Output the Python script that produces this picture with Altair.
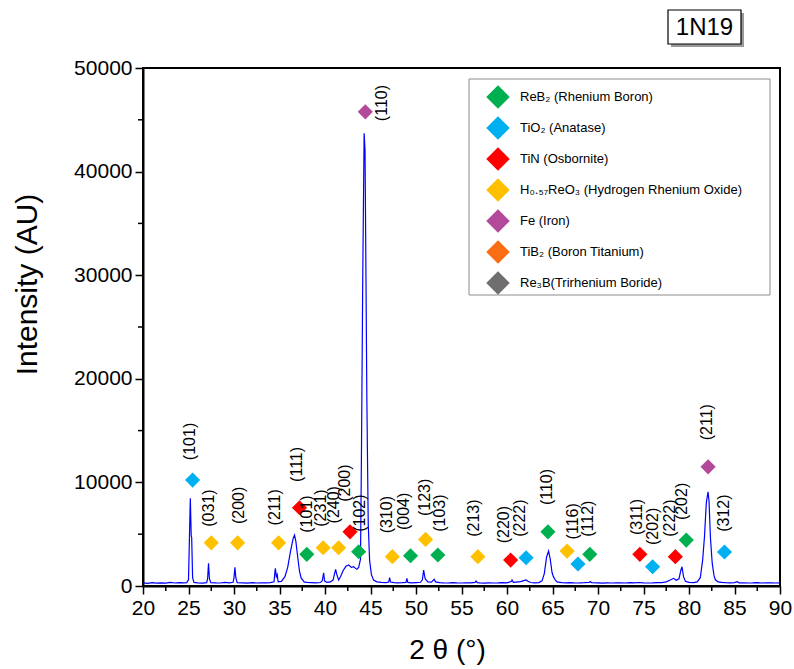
import altair as alt
import pandas as pd

# ---------------- data ----------------
two_theta = [20.0, 20.5, 21.0, 21.5, 22.0, 22.5, 23.0, 23.5, 24.0, 24.5, 24.8, 25.0, 25.1, 25.2, 25.3, 25.35, 25.45, 25.6,
             26.0, 26.5, 27.0, 27.1, 27.2, 27.3, 27.45, 28.0, 28.5, 29.0, 29.5, 29.9, 30.0, 30.1, 30.2, 30.35,
             31.0, 31.5, 32.0, 32.5, 33.0, 33.5, 34.0, 34.4, 34.5, 34.55, 34.65, 34.75, 34.85, 35.2, 35.6, 35.9,
             36.2, 36.5, 36.65, 36.8, 37.0, 37.2, 37.4, 37.5, 37.7, 38.0, 38.5, 39.0, 39.5, 39.7, 39.85, 39.95,
             40.2, 40.6, 40.9, 41.05, 41.17, 41.3, 41.5, 41.7, 42.0, 42.3, 42.6, 42.9, 43.14, 43.35, 43.5, 43.7,
             43.9, 44.0, 44.15, 44.3, 44.4, 44.5, 44.6, 44.75, 44.9, 45.1, 45.34, 45.7, 46.2, 46.7, 47.0, 47.1,
             47.2, 47.6, 48.0, 48.5, 48.9, 49.0, 49.1, 49.5, 50.0, 50.5, 50.7, 50.84, 51.0, 51.3, 51.7, 52.0,
             52.15, 52.6, 53.0, 53.5, 54.0, 54.5, 55.0, 55.5, 56.0, 56.5, 56.6, 56.75, 57.0, 57.5, 58.0, 58.5,
             59.0, 59.5, 60.0, 60.5, 60.55, 60.7, 61.0, 61.5, 62.0, 62.1, 62.3, 62.6, 63.0, 63.5, 63.85, 64.1,
             64.35, 64.57, 64.75, 64.95, 65.1, 65.3, 65.5, 66.0, 66.5, 67.0, 67.5, 68.0, 68.5, 69.0, 69.15, 69.3,
             70.0, 70.5, 71.0, 71.5, 72.0, 72.5, 73.0, 73.5, 74.0, 74.5, 75.0, 75.5, 76.0, 76.5, 77.0, 77.5,
             78.0, 78.3, 78.6, 78.9, 79.1, 79.23, 79.4, 79.6, 80.0, 80.5, 80.9, 81.24, 81.5, 81.7, 81.9, 82.09,
             82.2, 82.35, 82.55, 82.75, 82.9, 83.2, 83.6, 84.0, 84.5, 85.0, 85.3, 85.5, 86.0, 86.5, 87.0, 87.5,
             88.0, 88.5, 89.0, 89.5, 90.0]
intensity = [300, 260, 330, 280, 310, 270, 350, 290, 320, 300, 330, 600, 4500, 8460, 4800, 4700, 800, 350,
             300, 280, 320, 700, 2190, 700, 330, 300, 290, 340, 300, 360, 800, 1800, 800, 330,
             300, 280, 320, 290, 310, 300, 330, 400, 1400, 1700, 900, 1100, 400, 450, 900, 1800,
             3300, 4600, 4920, 4300, 2800, 1400, 700, 650, 400, 350, 330, 310, 340, 500, 1280, 500,
             350, 400, 600, 1200, 1610, 1100, 580, 900, 1500, 1900, 2030, 1800, 1860, 1700, 1610, 1800,
             2600, 12000, 30000, 43700, 42000, 30000, 18000, 6000, 2500, 1100, 580, 400, 350, 330, 380, 800,
             380, 330, 300, 320, 350, 740, 350, 300, 330, 360, 600, 1540, 700, 400, 380, 650,
             400, 320, 300, 290, 320, 300, 290, 310, 300, 350, 480, 330, 300, 280, 310, 290,
             300, 320, 300, 450, 580, 350, 380, 420, 560, 580, 450, 340, 300, 330, 500, 1200,
             2800, 3380, 2600, 1300, 900, 600, 400, 330, 300, 320, 290, 300, 320, 350, 420, 330,
             300, 280, 310, 290, 300, 310, 290, 320, 300, 340, 310, 290, 300, 320, 330, 400,
             600, 740, 560, 700, 1500, 1860, 900, 450, 350, 330, 400, 800, 2500, 4760, 8000, 9100,
             8200, 4760, 2200, 1000, 600, 400, 350, 320, 300, 330, 420, 300, 310, 290, 300, 320,
             290, 300, 310, 290, 300]

phases = ["ReB₂ (Rhenium Boron)", "TiO₂ (Anatase)", "TiN (Osbornite)",
          "H₀.₅₇ReO₃ (Hydrogen  Rhenium Oxide)", "Fe (Iron)", "TiB₂ (Boron Titanium)",
          "Re₃B(Trirhenium Boride)"]
phase_colors = ["#00b050", "#00b0f0", "#ff0000", "#ffc000", "#b3499a", "#fb6d14", "#706e6e"]

R, T, N, H, F = phases[0], phases[1], phases[2], phases[3], phases[4]
marker_phase = [T, H, H, H, N, R, H, H, N, R, F, H, R, H, R, H, N, T, R, H, T, R, N, T, N, R, F, T]
marker_x = [25.45, 27.5, 30.4, 34.9, 37.2, 38.0, 39.8, 41.5, 42.75, 43.7, 44.43, 47.4, 49.4, 51.05, 52.4,
            56.8, 60.4, 62.1, 64.5, 66.6, 67.8, 69.1, 74.6, 76.0, 78.5, 79.7, 82.1, 83.9]
marker_y = [10220, 4170, 4170, 4170, 7550, 3060, 3690, 3690, 5230, 3310, 45770, 2830, 2920, 4500, 2990,
            2830, 2500, 2730, 5230, 3370, 2120, 3060, 3060, 1860, 2830, 4430, 11500, 3280]
hkl = ["(101)", "(031)", "(200)", "(211)", "(111)", "(101)", "(231)", "(240)", "(200)", "(102)", "(110)",
       "(310)", "(004)", "(123)", "(103)", "(213)", "(220)", "(222)", "(110)", "(116)", "", "(112)",
       "(311)", "(202)", "(222)", "(202)", "(211)", "(312)"]
label_x = [25.12, 27.2, 30.5, 34.54, 36.92, 38.02, 39.56, 41.02, 42.23, 43.88, 46.26, 46.81, 48.71, 51.02,
           52.67, 56.33, 59.63, 61.46, 64.4, 67.25, 67.8, 68.9, 74.29, 76.04, 77.87, 79.23, 81.98, 83.88]
label_y = [12150, 5720, 5980, 5850, 10050, 5140, 5720, 6040, 8130, 5230, 44870, 5080, 5400, 6750, 5230,
           4750, 4120, 4750, 7810, 4500, 4000, 4750, 4920, 3950, 4750, 6360, 14070, 5230]

x_major = [20, 25, 30, 35, 40, 45, 50, 55, 60, 65, 70, 75, 80, 85, 90]
x_minor = [22.5, 27.5, 32.5, 37.5, 42.5, 47.5, 52.5, 57.5, 62.5, 67.5, 72.5, 77.5, 82.5, 87.5]
y_major = [0, 10000, 20000, 30000, 40000, 50000]
y_minor = [5000, 15000, 25000, 35000, 45000]

sample_name = ["1N19"]

# ---------------- chart ----------------
FONT = "Liberation Sans"
W, H_ = 637, 518

spec_df = pd.DataFrame({"two_theta": two_theta, "intensity": intensity})
mk_df = pd.DataFrame({"phase": marker_phase, "x": marker_x, "y": marker_y,
                      "hkl": hkl, "lx": label_x, "ly": label_y})

xscale = alt.Scale(domain=[20, 90], nice=False, zero=False)
yscale = alt.Scale(domain=[0, 50000], nice=False)

xaxis = alt.Axis(values=x_major, title="2 θ (°)", grid=False, domainColor="black", domainWidth=2,
                 tickColor="black", tickWidth=1.5, tickSize=8, labelPadding=3, labelFont=FONT,
                 labelFontSize=21, labelColor="black", titleFont=FONT, titleFontSize=28,
                 titleFontWeight="normal", titleColor="black", titleX=304, titleY=64,
                 titleBaseline="middle", titleAlign="center", labelFlush=False)
yaxis = alt.Axis(values=y_major, format="d", title="Intensity (AU)", grid=False, domainColor="black",
                 domainWidth=2, tickColor="black", tickWidth=1.5, tickSize=8, labelPadding=3,
                 labelFont=FONT, labelFontSize=21, labelColor="black", titleFont=FONT,
                 titleFontSize=30, titleFontWeight="normal", titleColor="black", titleX=-116,
                 titleY=216, titleBaseline="middle", titleAlign="center", titleAngle=270, labelFlush=False)


def X(field):
    return alt.X(field, type="quantitative", scale=xscale, axis=xaxis)


def Y(field):
    return alt.Y(field, type="quantitative", scale=yscale, axis=yaxis)


line = alt.Chart(spec_df).mark_line(color="#0000ff", strokeWidth=1.2).encode(
    x=X("two_theta"), y=Y("intensity"))

xminor = alt.Chart(pd.DataFrame({"v": x_minor})).mark_rule(color="black", strokeWidth=1.5).encode(
    x=X("v"), y=alt.value(H_), y2=alt.value(H_ + 5))
yminor = alt.Chart(pd.DataFrame({"v": y_minor})).mark_rule(color="black", strokeWidth=1.5).encode(
    y=Y("v"), x=alt.value(0), x2=alt.value(-5))

legend_box = alt.Chart(pd.DataFrame({"k": [0]})).mark_rect(
    fill="white", stroke="#8c8c8c", strokeWidth=1).encode(
    x=alt.value(326), x2=alt.value(627), y=alt.value(11), y2=alt.value(227))

points = alt.Chart(mk_df).mark_point(shape="diamond", filled=True, opacity=1, size=230).encode(
    x=X("x"), y=Y("y"),
    color=alt.Color("phase:N", scale=alt.Scale(domain=phases, range=phase_colors),
                    legend=alt.Legend(title=None, orient="none", legendX=326, legendY=11,
                                      symbolType="diamond", symbolSize=550, symbolStrokeWidth=0,
                                      symbolOpacity=1, symbolOffset=11, labelOffset=10,
                                      labelFontSize=13, labelFont=FONT, labelColor="black",
                                      rowPadding=7, padding=6, labelLimit=400)),
)

labels = alt.Chart(mk_df).mark_text(angle=270, align="left", baseline="middle", fontSize=16,
                                    font=FONT, color="black").encode(
    x=X("lx"), y=Y("ly"), text="hkl:N")

name_df = pd.DataFrame({"name": sample_name})
shadow = alt.Chart(name_df).mark_rect(fill="#9a9a9a").encode(
    x=alt.value(528), x2=alt.value(601), y=alt.value(-55), y2=alt.value(-21))
box = alt.Chart(name_df).mark_rect(fill="white", stroke="black", strokeWidth=1.2).encode(
    x=alt.value(525), x2=alt.value(598), y=alt.value(-58), y2=alt.value(-24))
name_txt = alt.Chart(name_df).mark_text(font=FONT, fontSize=24, color="black",
                                        align="center", baseline="middle").encode(
    x=alt.value(561.5), y=alt.value(-40), text="name:N")

chart = alt.layer(line, xminor, yminor, legend_box, points, labels, shadow, box, name_txt).properties(
    width=W, height=H_,
    background="white",
    autosize=alt.AutoSizeParams(type="none"),
    padding={"left": 143, "top": 68, "right": 14, "bottom": 83},
).configure_view(stroke="black", strokeWidth=2)

chart.save("out.html", embed_options={"renderer": "svg", "actions": False})
